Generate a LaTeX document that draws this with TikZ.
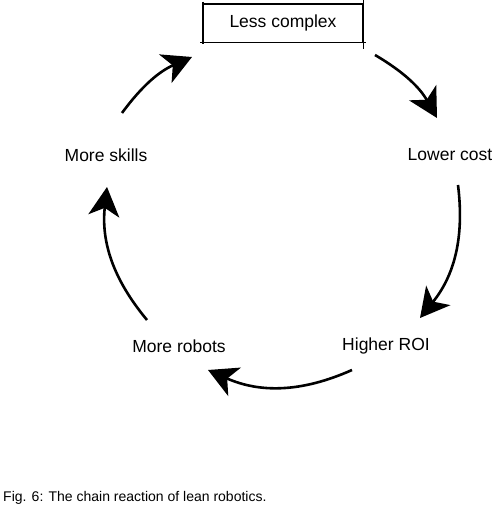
\documentclass[tikz,border=0pt]{standalone}
\usepackage{fontspec}
\setmainfont{Liberation Sans}
\usetikzlibrary{arrows.meta}
\tikzset{
  lbl/.style={font=\fontsize{17.5}{20}\selectfont, inner sep=0pt},
  flow/.style={line width=2.6pt, -{Stealth[length=29pt,width=31pt,inset=8pt]}},
  sketch/.style={line width=0.9pt}
}

\begin{document}
\begin{tikzpicture}[x=1pt,y=1pt]
  \useasboundingbox (0,0) rectangle (494,509);
  \node[lbl, draw, sketch, minimum width=159pt, minimum height=38pt] (less) at (283,486) {Less complex};
  \draw[sketch] ([yshift=4pt]less.north east) -- ([yshift=-7pt]less.south east);
  \draw[sketch] ([xshift=-3pt]less.south west) -- ([xshift=3pt]less.south east);
  \draw[line width=1.4pt] ([yshift=2pt]less.north west) -- ([yshift=-2pt]less.south west);
  \draw[line width=1.6pt] (less.north west) -- (less.north east);
  \node[lbl] (lower) at (450,354) {Lower cost};
  \node[lbl] (higher) at (386,163) {Higher ROI};
  \node[lbl] (robots) at (179,163) {More robots};
  \node[lbl] (skills) at (106,354) {More skills};
  \node[font=\fontsize{14}{16}\selectfont, anchor=west, inner sep=0pt] (cap) at (3,11) {Fig. 6: The chain reaction of lean robotics.};
  \draw[flow] ([shift={(92,-32)}]less.center) to[bend left=15] ([shift={(-13,37)}]lower.center);
  \draw[flow] ([shift={(8,-30)}]lower.center) to[bend left=23] ([shift={(34,28)}]higher.center);
  \draw[flow] ([shift={(-34,-24)}]higher.center) to[bend left=24] ([shift={(29,-24)}]robots.center);
  \draw[flow] ([shift={(-32,26)}]robots.center) to[bend left=23] ([shift={(1,-32)}]skills.center);
  \draw[flow] ([shift={(16,42)}]skills.center) to[bend left=15] ([shift={(-91,-34)}]less.center);
\end{tikzpicture}
\end{document}
